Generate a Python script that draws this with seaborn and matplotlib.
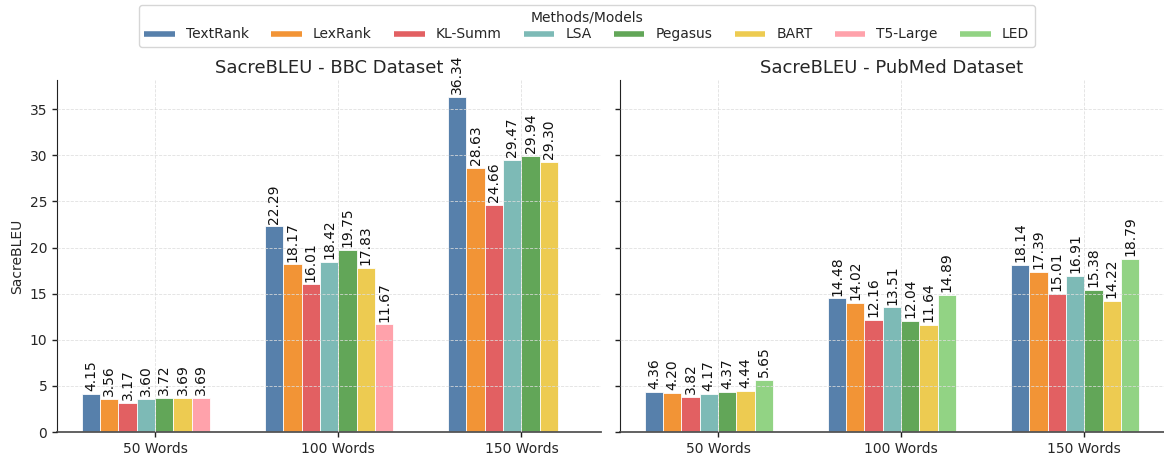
import matplotlib
matplotlib.use("Agg")
import matplotlib.pyplot as plt
from matplotlib.lines import Line2D
import seaborn as sns
import pandas as pd

categories = ["50 Words", "100 Words", "150 Words"]
methods = ["TextRank", "LexRank", "KL-Summ", "LSA", "Pegasus", "BART", "T5-Large", "LED"]
colors = ["#4e79a7", "#f28e2b", "#e15759", "#76b7b2", "#59a14f", "#edc948", "#ff9da7", "#8cd17d"]

bbc_textrank = [4.15, 22.29, 36.34]
bbc_lexrank = [3.56, 18.17, 28.63]
bbc_klsumm = [3.17, 16.01, 24.66]
bbc_lsa = [3.60, 18.42, 29.47]
bbc_pegasus = [3.72, 19.75, 29.94]
bbc_bart = [3.69, 17.83, 29.30]
bbc_t5 = [3.69, 11.67, None]

pub_textrank = [4.36, 14.48, 18.14]
pub_lexrank = [4.20, 14.02, 17.39]
pub_klsumm = [3.82, 12.16, 15.01]
pub_lsa = [4.17, 13.51, 16.91]
pub_pegasus = [4.37, 12.04, 15.38]
pub_bart = [4.44, 11.64, 14.22]
pub_led = [5.65, 14.89, 18.79]

bbc = {"TextRank": bbc_textrank, "LexRank": bbc_lexrank, "KL-Summ": bbc_klsumm,
       "LSA": bbc_lsa, "Pegasus": bbc_pegasus, "BART": bbc_bart, "T5-Large": bbc_t5}
pub = {"TextRank": pub_textrank, "LexRank": pub_lexrank, "KL-Summ": pub_klsumm,
       "LSA": pub_lsa, "Pegasus": pub_pegasus, "BART": pub_bart, "LED": pub_led}

palette = dict(zip(methods, colors))


def to_long(d):
    rows = []
    for m, vals in d.items():
        for c, v in zip(categories, vals):
            if v is not None:
                rows.append({"Length": c, "Method": m, "Score": v})
    return pd.DataFrame(rows)


sns.set_style("white")
plt.rcParams["font.family"] = ["DejaVu Sans"]

fig = plt.figure(figsize=(11.64, 4.57), dpi=100)
ax1 = fig.add_axes([0.049, 0.0547, 0.4674, 0.7703])
ax2 = fig.add_axes([0.5326, 0.0547, 0.4674, 0.7703], sharey=ax1)

panels = [
    (ax1, bbc, "SacreBLEU - BBC Dataset"),
    (ax2, pub, "SacreBLEU - PubMed Dataset"),
]

for ax, d, title in panels:
    df = to_long(d)
    present = list(d.keys())
    order_h = present + [m for m in methods if m not in present]
    sns.barplot(data=df, x="Length", y="Score", hue="Method", order=categories,
                hue_order=order_h, palette=palette, ax=ax, width=0.8, saturation=1,
                edgecolor="white", linewidth=0.6, alpha=0.95, legend=False,
                errorbar=None)
    for cont in ax.containers:
        if len(cont) > 0:
            ax.bar_label(cont, fmt="%.2f", rotation=90, padding=2, fontsize=10, color="#111111")
    ax.set_title(title, fontsize=13, pad=5)
    ax.set_xlabel("")
    ax.set_xlim(-0.535, 2.435)
    ax.set_ylim(0, 38.16)
    ax.set_yticks([0, 5, 10, 15, 20, 25, 30, 35])
    ax.grid(True, linestyle="--", linewidth=0.6, color="#dddddd", alpha=0.9)
    ax.set_axisbelow(False)
    for s in ["top", "right"]:
        ax.spines[s].set_visible(False)
    ax.spines["left"].set_color("#222222")
    ax.spines["bottom"].set_color("#555555")
    ax.spines["bottom"].set_linewidth(1.3)
    ax.tick_params(axis="both", which="both", length=3.5, width=1, color="#222222",
                   labelsize=10, left=True, bottom=True)

ax1.set_ylabel("SacreBLEU", fontsize=10)
ax2.set_ylabel("")
plt.setp(ax2.get_yticklabels(), visible=False)

handles = [Line2D([0], [0], color=palette[m], lw=4, alpha=0.95, solid_capstyle="butt")
           for m in methods]
leg = fig.legend(handles, methods, loc="upper center", bbox_to_anchor=(0.504, 1.004),
                 ncol=8, title="Methods/Models", fontsize=10, title_fontsize=10,
                 frameon=True, handlelength=2.2, columnspacing=1.6, borderpad=0.4,
                 labelspacing=0.2)
leg.get_frame().set_edgecolor("#cccccc")

fig.savefig("out.png", dpi=100)
